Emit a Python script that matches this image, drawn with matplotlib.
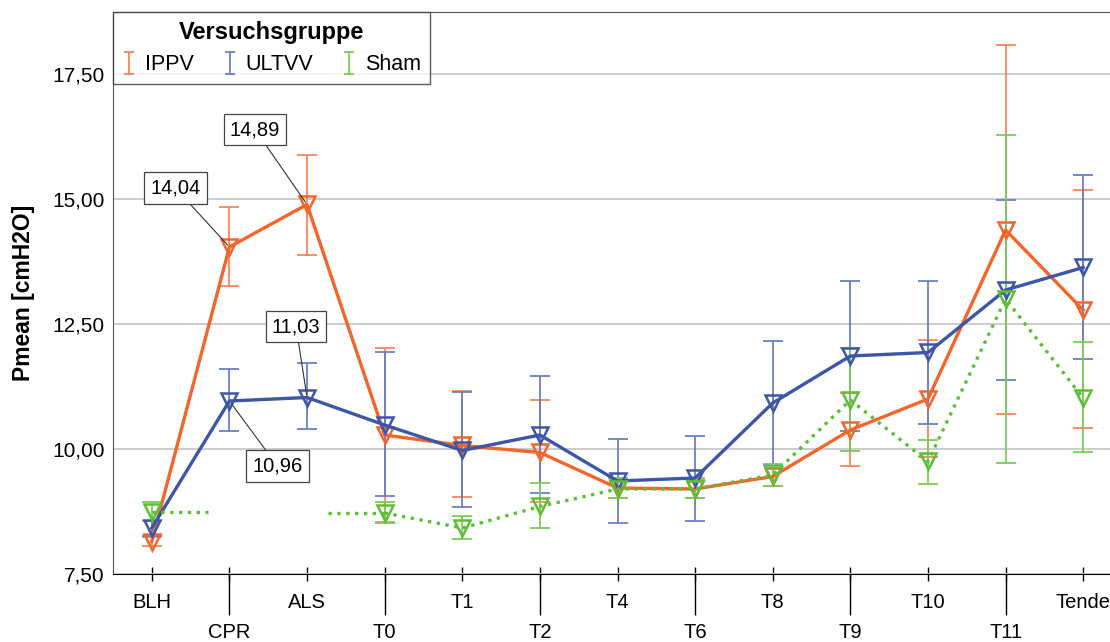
import numpy as np
import matplotlib
matplotlib.use('Agg')
from matplotlib import pyplot as plt

plt.rcParams['font.family'] = ['Liberation Sans', 'DejaVu Sans']

# categories
cats = ['BLH', 'CPR', 'ALS', 'T0', 'T1', 'T2', 'T4', 'T6', 'T8', 'T9', 'T10', 'T11', 'Tende']

# IPPV
ippv_mean = [8.15, 14.04, 14.89, 10.28, 10.07, 9.93, 9.22, 9.20, 9.45, 10.38, 11.00, 14.38, 12.78]
ippv_lo = [8.06, 13.25, 13.88, 8.53, 9.03, 8.95, 9.02, 9.02, 9.25, 9.66, 9.83, 10.70, 10.41]
ippv_hi = [8.25, 14.84, 15.88, 12.03, 11.16, 10.97, 9.42, 9.40, 9.68, 11.12, 12.17, 18.08, 15.18]

# ULTVV
ultvv_mean = [8.42, 10.96, 11.03, 10.48, 9.97, 10.28, 9.36, 9.42, 10.92, 11.86, 11.93, 13.18, 13.63]
ultvv_lo = [8.27, 10.37, 10.40, 9.06, 8.84, 9.12, 8.52, 8.57, 9.68, 10.36, 10.50, 11.38, 11.80]
ultvv_hi = [8.57, 11.60, 11.71, 11.93, 11.13, 11.46, 10.19, 10.26, 12.16, 13.37, 13.36, 14.97, 15.48]

# Sham (no values for CPR / ALS)
sham_mean = [8.74, np.nan, np.nan, 8.72, 8.42, 8.85, 9.20, 9.20, 9.48, 10.98, 9.75, 13.00, 11.02]
sham_lo = [8.55, np.nan, np.nan, 8.54, 8.20, 8.43, 9.02, 9.02, 9.26, 9.95, 9.30, 9.72, 9.93]
sham_hi = [8.93, np.nan, np.nan, 8.94, 8.66, 9.31, 9.42, 9.42, 9.70, 12.02, 10.18, 16.28, 12.13]

# labelled points: (series, category index, text offset in px)
labels = [('IPPV', 1, (-54, 59)), ('IPPV', 2, (-52, 75)),
          ('ULTVV', 2, (-11, 71)), ('ULTVV', 1, (48, -65))]

series = {
    'IPPV': (ippv_mean, ippv_lo, ippv_hi, '#F4652B', '#F7865A', '-'),
    'ULTVV': (ultvv_mean, ultvv_lo, ultvv_hi, '#3D56A6', '#6B7FC3', '-'),
    'Sham': (sham_mean, sham_lo, sham_hi, '#5CBF35', '#7DCC5C', ':'),
}

fig = plt.figure(figsize=(11.1, 6.42), dpi=100)
ax = fig.add_axes([113 / 1110, 68 / 642, 1009 / 1110, 562 / 642])

x = np.arange(len(cats))
handles = []
for name, (m, lo, hi, col, ecol, ls) in series.items():
    m = np.array(m)
    err = [m - np.array(lo), np.array(hi) - m]
    ax.errorbar(x, m, yerr=err, fmt='none', ecolor=ecol, elinewidth=1.3,
                capsize=7, capthick=1.3, zorder=2)
    # small proxy for the legend icon
    handles.append(ax.errorbar([np.nan], [np.nan], yerr=[[1], [1]], fmt='none', ecolor=ecol,
                               elinewidth=1.3, capsize=3.5, capthick=1.3, label=name))
    ax.plot(x, m, color=col, lw=2.4, ls=ls, marker='v', ms=11, mfc='none',
            mec=col, mew=1.8, zorder=3, dash_capstyle='butt')
    # short horizontal stubs next to missing values
    for i in range(len(m)):
        if np.isnan(m[i]):
            continue
        if i + 1 < len(m) and np.isnan(m[i + 1]):
            ax.plot([x[i], x[i] + 0.72], [m[i], m[i]], color=col, lw=2.4, ls=ls, zorder=3)
        if i > 0 and np.isnan(m[i - 1]):
            ax.plot([x[i] - 0.73, x[i]], [m[i], m[i]], color=col, lw=2.4, ls=ls, zorder=3)

for name, i, off in labels:
    v = series[name][0][i]
    ax.annotate(f'{v:.2f}'.replace('.', ','), xy=(x[i], v), xytext=off,
                textcoords='offset pixels', ha='center', va='center', fontsize=14.5,
                bbox=dict(boxstyle='square,pad=0.3', fc='white', ec='#444444', lw=0.9),
                arrowprops=dict(arrowstyle='-', color='#333333', lw=0.8,
                                shrinkA=0, shrinkB=2), zorder=5)

ax.set_xlim(-0.5, 12.5)
ax.set_ylim(7.5, 18.74)
yt = [7.5, 10.0, 12.5, 15.0, 17.5]
ax.set_yticks(yt)
ax.set_yticklabels([f'{v:.2f}'.replace('.', ',') for v in yt], fontsize=15)
ax.tick_params(axis='y', length=0, pad=6)
ax.yaxis.grid(True, color='#C8C8C8', lw=1.3)
ax.set_axisbelow(True)

ax.xaxis.remove_overlapping_locs = False
ax.set_xticks(x)
ax.set_xticklabels([c if i % 2 == 0 else '' for i, c in enumerate(cats)], fontsize=14.5)
ax.set_xticks(x[1::2], minor=True)
ax.set_xticklabels(cats[1::2], minor=True, fontsize=14.5)
ax.tick_params(axis='x', which='major', direction='inout', length=10, width=1, pad=9)
ax.tick_params(axis='x', which='minor', direction='out', length=29.5, width=1, pad=5.5)

for s in ['left', 'top']:
    ax.spines[s].set_color('#555555')
ax.spines['bottom'].set_color('black')
ax.spines['right'].set_visible(False)

ax.set_ylabel('Pmean [cmH2O]', fontsize=16.5, fontweight='bold', labelpad=12)

leg = ax.legend(handles=handles, title='Versuchsgruppe', ncol=3, loc='upper left',
                bbox_to_anchor=(0, 1), borderaxespad=0, fontsize=15.5, frameon=True,
                fancybox=False, edgecolor='#333333', handlelength=0.7, handletextpad=0.4,
                columnspacing=1.3, borderpad=0.4, labelspacing=0.5)
leg.get_title().set_fontweight('bold')
leg.get_title().set_fontsize(17)
leg.get_frame().set_linewidth(1.0)
leg.set_zorder(10)

fig.savefig('out.png', dpi=100)
